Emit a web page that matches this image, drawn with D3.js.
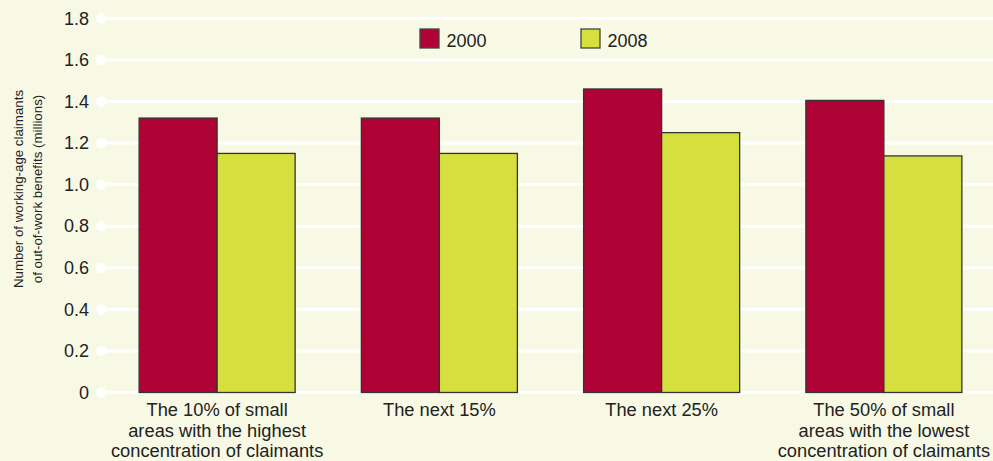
<!DOCTYPE html>
<html><head><meta charset="utf-8">
<script src="https://cdn.jsdelivr.net/npm/d3@7"></script>
<style>
html,body{margin:0;padding:0;background:#f7f9e5;}
svg{display:block;font-family:"Liberation Sans",Arial,sans-serif;}
</style></head>
<body><svg id="c" width="993" height="461"></svg>
<script>
const categories = [
  ["The 10% of small","areas with the highest","concentration of claimants"],
  ["The next 15%"],
  ["The next 25%"],
  ["The 50% of small","areas with the lowest","concentration of claimants"]
];
const series = ["2000","2008"];
const values2000 = [1.32, 1.32, 1.46, 1.405];
const values2008 = [1.15, 1.15, 1.25, 1.138];
const yTicks = [0,0.2,0.4,0.6,0.8,1.0,1.2,1.4,1.6,1.8];
const colors = ["#b00335","#d5e03f"];
const yTitle = ["Number of working-age claimants","of out-of-work benefits (millions)"];

const svg = d3.select("#c");
svg.append("rect").attr("width",993).attr("height",461).attr("fill","#f7f9e5");

const y = d3.scaleLinear().domain([0,1.8]).range([392.5,18.3]);
const x0 = d3.scaleBand().domain(d3.range(categories.length)).range([106,995]).paddingInner(0.298).paddingOuter(0.149);
const x1 = d3.scaleBand().domain(series).range([0,x0.bandwidth()]);

// gridlines
const grid = svg.append("g");
yTicks.forEach(t=>{
  grid.append("line").attr("x1",100).attr("x2",993).attr("y1",y(t)).attr("y2",y(t))
    .attr("stroke","#ffffff").attr("stroke-width",3);
  grid.append("circle").attr("cx",101).attr("cy",y(t)).attr("r",5.2).attr("fill","#ffffff");
});
// y axis labels
const yAxis = d3.axisLeft(y).tickValues(yTicks).tickSize(0).tickPadding(0)
  .tickFormat(d=> d===0 ? "0" : d3.format(".1f")(d));
const ya = svg.append("g").attr("transform","translate(89,0)").call(yAxis);
ya.select(".domain").remove();
ya.selectAll("text").attr("font-size",18).attr("fill","#222").attr("font-family","Liberation Sans, Arial, sans-serif");

// y title
const yt = svg.append("text").attr("transform","translate(23,189) rotate(-90)")
  .attr("text-anchor","middle").attr("font-size",13.3).attr("fill","#222");
yTitle.forEach((l,i)=> yt.append("tspan").attr("x",0).attr("dy", i===0?0:19).text(l));

// bars
const data = categories.map((c,i)=>({i, vals:[values2000[i], values2008[i]]}));
const g = svg.append("g");
data.forEach(d=>{
  d.vals.forEach((v,j)=>{
    g.append("rect")
      .attr("x", x0(d.i)+x1(series[j]))
      .attr("y", y(v))
      .attr("width", x1.bandwidth())
      .attr("height", y(0)-y(v))
      .attr("fill", colors[j])
      .attr("stroke","#333").attr("stroke-width",1.3);
  });
});

// x labels
const xa = svg.append("g");
categories.forEach((lines,i)=>{
  const cx = x0(i)+x0.bandwidth()/2;
  const t = xa.append("text").attr("x", cx).attr("y",416)
    .attr("text-anchor","middle").attr("font-size",18.3).attr("fill","#222");
  lines.forEach((l,k)=> t.append("tspan").attr("x", cx).attr("dy", k===0?0:20.5).text(l));
});

// legend
const legX = [420, 581];
series.forEach((s,j)=>{
  svg.append("rect").attr("x",legX[j]).attr("y",29).attr("width",19).attr("height",19)
    .attr("fill",colors[j]).attr("stroke","#444").attr("stroke-width",1.3);
  svg.append("text").attr("x",legX[j]+26.5).attr("y",47.3).attr("font-size",18).attr("fill","#222").text(s);
});
</script></body></html>
